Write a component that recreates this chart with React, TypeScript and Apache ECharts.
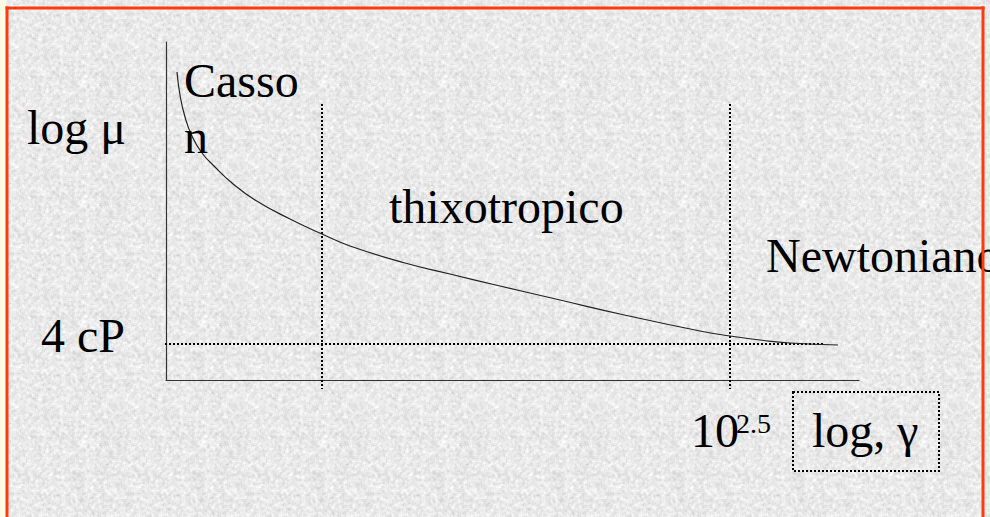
import React, { useEffect, useRef } from "react";
import * as echarts from "echarts";

// Flow curve: shear rate (x, arbitrary log units) vs viscosity (y, arbitrary log units)
const shearRate = [11, 14, 19, 26, 36, 49, 66, 89, 124, 156, 184, 239, 284, 334, 394, 454, 534, 564, 594, 624, 672];
const viscosity = [308, 285, 263, 244, 227, 213, 197, 180, 161, 146, 134, 117, 106, 94, 80, 66, 49, 44, 40, 37, 35];

// Region boundaries on the shear-rate axis and their vertical extent
const regionBounds = [156, 564];
const boundSpan = [276, -9];

// Newtonian plateau (4 cP) and its horizontal extent
const plateauLevel = 36;
const plateauSpan = [-1, 658];

const xRange = [0, 693];
const yRange = [0, 338];

const FONT = "'Liberation Serif', 'Times New Roman', serif";
const BORDER = "#ff3a0c";

function makeGranite(): string {
  const n = 120;
  const c = document.createElement("canvas");
  c.width = n;
  c.height = n;
  const ctx = c.getContext("2d");
  if (!ctx) return "";
  const h = (x: number, y: number) => {
    const s = Math.sin(((x + n) % n) * 12.9898 + ((y + n) % n) * 78.233) * 43758.5453;
    return s - Math.floor(s);
  };
  const img = ctx.createImageData(n, n);
  for (let y = 0; y < n; y++) {
    for (let x = 0; x < n; x++) {
      let sum = 0;
      for (let dy = -1; dy <= 1; dy++) for (let dx = -1; dx <= 1; dx++) sum += h(x + dx, y + dy);
      const v = sum / 9;
      const g = Math.round(233 + (v - 0.5) * 70 + (h(x * 3, y * 7) - 0.5) * 10);
      const i = (y * n + x) * 4;
      img.data[i] = g;
      img.data[i + 1] = g;
      img.data[i + 2] = g;
      img.data[i + 3] = 255;
    }
  }
  ctx.putImageData(img, 0, 0);
  return c.toDataURL();
}

function label(text: string, x: number, y: number, size = 48) {
  return {
    type: "text",
    x,
    y,
    z: 10,
    style: { text, fontFamily: FONT, fontSize: size, fill: "#000", verticalAlign: "middle", align: "left" },
  };
}

export default function App() {
  const ref = useRef<HTMLDivElement>(null);

  useEffect(() => {
    if (!ref.current) return;
    const bg = makeGranite();
    if (bg) ref.current.style.backgroundImage = `url(${bg})`;
    const chart = echarts.init(ref.current, null, { renderer: "svg" });

    const dotted = { color: "#000", width: 2, type: [2, 2] as number[] };
    const axisStyle = {
      type: "value" as const,
      axisLine: { show: true, lineStyle: { color: "#333", width: 1.2 } },
      axisTick: { show: false },
      axisLabel: { show: false },
      splitLine: { show: false },
    };

    chart.setOption({
      animation: false,
      backgroundColor: "transparent",
      grid: { left: 166, right: 131, top: 42, bottom: 137 },
      xAxis: { ...axisStyle, min: xRange[0], max: xRange[1] },
      yAxis: { ...axisStyle, min: yRange[0], max: yRange[1] },
      series: [
        {
          type: "line",
          data: shearRate.map((x, i) => [x, viscosity[i]]),
          smooth: 0.5,
          symbol: "none",
          clip: false,
          lineStyle: { color: "#222", width: 1.2 },
          z: 5,
        },
        ...regionBounds.map((x) => ({
          type: "line",
          data: [
            [x, boundSpan[0]],
            [x, boundSpan[1]],
          ],
          symbol: "none",
          clip: false,
          lineStyle: dotted,
        })),
        {
          type: "line",
          data: [
            [plateauSpan[0], plateauLevel],
            [plateauSpan[1], plateauLevel],
          ],
          symbol: "none",
          clip: false,
          lineStyle: dotted,
        },
      ],
      graphic: [
        { type: "rect", shape: { x: 0, y: 0, width: 6, height: 517 }, style: { fill: "#fdfde6" }, z: 1 },
        label("log \u03bc", 27, 127.8),
        label("Casso", 184, 80.8),
        label("n", 184, 136.8),
        label("thixotropico", 389, 206.8),
        label("Newtoniano", 766, 255.8),
        label("4 cP", 41, 335.8),
        label("10", 691, 430.8),
        label("2.5", 736, 423.2, 28),
        label("log, \u03b3", 812, 430.8),
        {
          type: "rect",
          shape: { x: 793, y: 392, width: 146, height: 79 },
          style: { fill: "none", stroke: "#000", lineWidth: 2, lineDash: [2, 2] },
          z: 10,
        },
        { type: "line", shape: { x1: 5.5, y1: 8, x2: 984.5, y2: 8 }, style: { stroke: BORDER, lineWidth: 3 }, z: 20 },
        { type: "line", shape: { x1: 7, y1: 6.5, x2: 7, y2: 517 }, style: { stroke: BORDER, lineWidth: 3 }, z: 20 },
        { type: "line", shape: { x1: 983, y1: 6.5, x2: 983, y2: 517 }, style: { stroke: BORDER, lineWidth: 3 }, z: 20 },
      ],
    });

    return () => chart.dispose();
  }, []);

  return (
    <div
      ref={ref}
      style={{ position: "fixed", left: 0, top: 0, width: 990, height: 517, backgroundColor: "#e8e8e8" }}
    />
  );
}
